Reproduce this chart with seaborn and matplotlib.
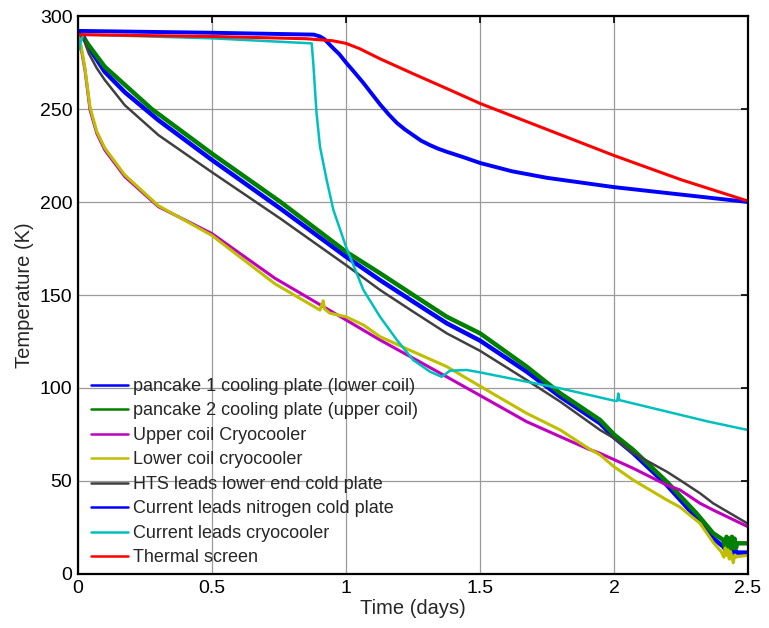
import matplotlib
matplotlib.use('Agg')
import matplotlib.pyplot as plt
import seaborn as sns

# ---------------------------------------------------------------
# Dados (tempo em dias, temperatura em K)

t_pancake1 = [0.0, 0.02, 0.05, 0.1, 0.175, 0.3, 0.5, 0.754, 1.0, 1.127, 1.251, 1.376, 1.5, 1.674, 1.8,
              1.948, 2.0, 2.072, 2.197, 2.321, 2.37, 2.408, 2.42, 2.43, 2.44, 2.45, 2.46, 2.5]
T_pancake1 = [291, 289, 281, 270, 259, 244, 222.6, 196.6, 170.6, 158, 146.4, 134.8, 125.5, 108.8, 95.3,
              81, 73.5, 64.9, 47.8, 28.1, 19.2, 14.7, 12, 15, 11, 13, 11.5, 11.5]

t_pancake2 = [0.0, 0.026, 0.1, 0.175, 0.275, 0.5, 0.754, 1.0, 1.127, 1.251, 1.376, 1.5, 1.674, 1.8, 1.948,
              2.0, 2.072, 2.197, 2.308, 2.37, 2.408, 2.415, 2.42, 2.425, 2.43, 2.435, 2.44, 2.445, 2.45,
              2.455, 2.46, 2.5]
T_pancake2 = [291, 287, 272.7, 263, 250, 226, 200.2, 173.3, 161.7, 150, 138.3, 129.4, 111.5, 97.1, 82.8,
              75, 66.7, 49.6, 32.6, 21.9, 18.3, 14, 20, 14, 19, 13.5, 20, 14, 19,
              14, 16.5, 16.5]

t_upper = [0.0, 0.01, 0.026, 0.045, 0.07, 0.1, 0.175, 0.3, 0.5, 0.735, 1.0, 1.127, 1.251, 1.376, 1.5,
           1.674, 1.8, 1.904, 1.948, 2.072, 2.197, 2.246, 2.321, 2.37, 2.5]
T_upper = [291, 284, 271, 249.5, 237, 228, 213.6, 197.5, 183, 159, 136.6, 125.8, 116, 106, 96,
           81.9, 73.8, 67.2, 64.9, 56.8, 47.8, 45.2, 38, 34.4, 25.4]

t_lower = [0.0, 0.01, 0.026, 0.045, 0.07, 0.1, 0.175, 0.3, 0.5, 0.735, 0.903, 0.915, 0.92, 0.94, 1.0,
           1.065, 1.127, 1.251, 1.376, 1.5, 1.674, 1.8, 1.904, 1.948, 2.0, 2.072, 2.197, 2.246, 2.321,
           2.37, 2.4, 2.41, 2.415, 2.42, 2.425, 2.43, 2.435, 2.44, 2.445, 2.45, 2.455, 2.46, 2.5]
T_lower = [290, 285, 272, 251, 238, 229, 214.5, 198, 182, 156, 141.9, 146.9, 142.5, 140.2, 138.3,
           133.9, 127.6, 119.5, 111.5, 101, 86.4, 77.4, 67.6, 64, 57.7, 50.5, 39.8, 36, 27.2,
           17, 12, 9, 14, 10, 13, 8, 12, 9, 6, 10, 9, 9.3, 10]

t_hts = [0.0, 0.02, 0.04, 0.07, 0.1, 0.175, 0.3, 0.5, 0.754, 1.0, 1.127, 1.251, 1.376, 1.5, 1.674, 1.8,
         1.948, 2.0, 2.072, 2.197, 2.246, 2.321, 2.37, 2.5]
T_hts = [291, 288, 280, 272, 265.6, 252, 236, 216, 191.2, 166.1, 152.7, 141, 129.4, 120, 104.3, 92.6,
         77.4, 73, 64.9, 55, 50.5, 43.4, 38, 27]

t_nitro = [0.0, 0.5, 0.88, 0.903, 0.92, 0.95, 0.975, 1.0, 1.03, 1.065, 1.1, 1.127, 1.16, 1.19, 1.22,
           1.25, 1.28, 1.313, 1.345, 1.376, 1.44, 1.5, 1.62, 1.75, 2.0, 2.25, 2.5]
T_nitro = [292, 291, 290, 289, 287.5, 283, 279.5, 275, 270, 264, 257.5, 252.5, 247, 242.5, 239,
           236, 233, 230.6, 228.6, 227, 224, 221, 216.5, 213, 208, 204, 200]

t_cryo = [0.0, 0.005, 0.01, 0.02, 0.5, 0.872, 0.878, 0.89, 0.903, 0.928, 0.953, 1.0, 1.065, 1.127,
          1.19, 1.251, 1.313, 1.357, 1.388, 1.45, 1.5, 1.674, 1.8, 2.0, 2.012, 2.016, 2.02, 2.172,
          2.35, 2.5]
T_cryo = [290, 282, 286, 290, 288, 285.3, 274.6, 248, 229.7, 211.8, 195.7, 176, 152.7, 138.3,
          125.8, 115, 108.8, 106, 109.3, 109.7, 108.4, 103.4, 99.8, 93.2, 93, 97, 93.5, 88.2,
          82, 77.4]

t_screen = [0.0, 0.5, 0.85, 0.95, 1.0, 1.05, 1.127, 1.25, 1.376, 1.5, 1.75, 2.0, 2.25, 2.5]
T_screen = [290, 289, 287.8, 286.7, 285.3, 282.5, 277, 269, 261, 253, 239, 225, 212, 200.5]

rotulos = ['pancake 1 cooling plate (lower coil)',
           'pancake 2 cooling plate (upper coil)',
           'Upper coil Cryocooler',
           'Lower coil cryocooler',
           'HTS leads lower end cold plate',
           'Current leads nitrogen cold plate',
           'Current leads cryocooler',
           'Thermal screen']
cores = ['#0000ff', '#008000', '#bf00bf', '#bfbf00', '#404040', '#0000ff', '#00bfbf', '#ff0000']
larguras = [3.2, 3.2, 2.2, 2.2, 1.8, 2.8, 1.8, 2.2]

series = [(t_pancake1, T_pancake1), (t_pancake2, T_pancake2), (t_upper, T_upper), (t_lower, T_lower),
          (t_hts, T_hts), (t_nitro, T_nitro), (t_cryo, T_cryo), (t_screen, T_screen)]

# ---------------------------------------------------------------
sns.set_theme(style='white')
plt.rcParams['font.family'] = ['Liberation Sans', 'DejaVu Sans']

fig = plt.figure(figsize=(7.69, 6.28), dpi=100)
ax = fig.add_axes([0.1014, 0.086, 0.8713, 0.8885])

for (tt, TT), rot, cor, lw in zip(series, rotulos, cores, larguras):
    sns.lineplot(x=tt, y=TT, ax=ax, color=cor, lw=lw, sort=False, estimator=None, label=rot)

ax.set_xlim(0, 2.5)
ax.set_ylim(0, 300)
ax.set_xticks([0, 0.5, 1, 1.5, 2, 2.5])
ax.set_xticklabels(['0', '0.5', '1', '1.5', '2', '2.5'])
ax.set_yticks(range(0, 301, 50))
ax.grid(True, color='#9a9a9a', lw=0.9)
ax.set_axisbelow(True)

for sp in ax.spines.values():
    sp.set_color('black')
    sp.set_linewidth(1.6)
ax.tick_params(direction='in', length=5, width=1.2, top=True, right=True,
               labelsize=14, colors='black', pad=4)

ax.set_xlabel('Time (days)', fontsize=14.5, labelpad=2)
ax.set_ylabel('Temperature (K)', fontsize=14.5, labelpad=4)

leg = ax.legend(loc='lower left', bbox_to_anchor=(0.0, -0.009), frameon=False, fontsize=13,
                handlelength=2.05, handletextpad=0.28, labelspacing=0.415, borderaxespad=0.3)
for h in leg.get_lines():
    h.set_linewidth(1.8)

fig.savefig('out.png', dpi=100)
